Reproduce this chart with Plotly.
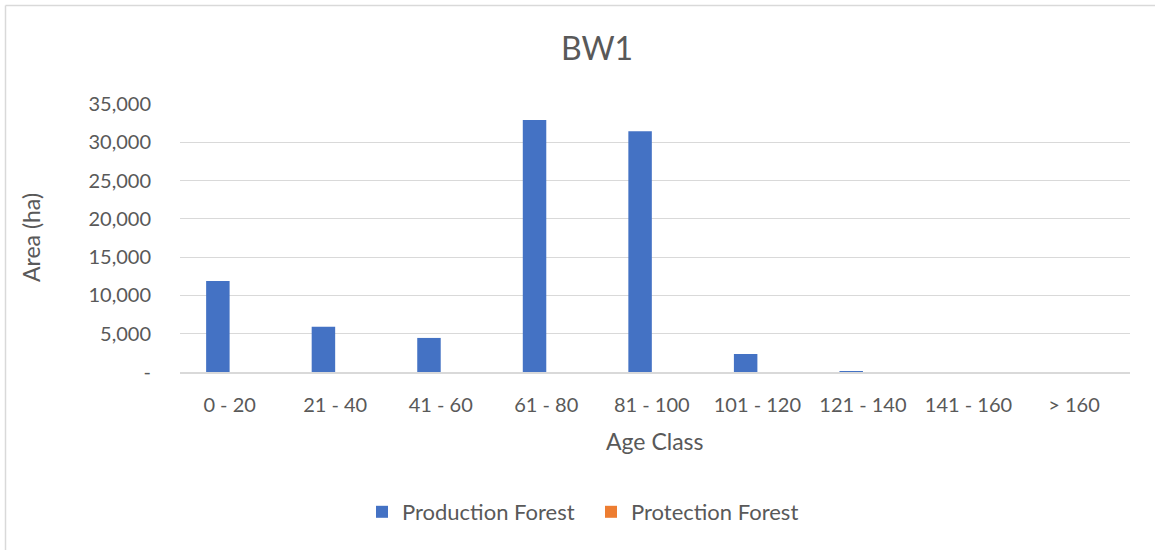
import plotly.graph_objects as go

# Age classes and area (ha) by forest function
age_classes = ["0 - 20", "21 - 40", "41 - 60", "61 - 80", "81 - 100",
               "101 - 120", "121 - 140", "141 - 160", "> 160"]
production_forest = [11900, 5900, 4450, 32900, 31450, 2350, 100, 0, 0]
protection_forest = [0, 0, 0, 0, 0, 0, 0, 0, 0]

y_tick_values = [0, 5000, 10000, 15000, 20000, 25000, 30000, 35000]
y_tick_labels = ["-", "5,000", "10,000", "15,000", "20,000", "25,000", "30,000", "35,000"]

FONT = "Lato"
TEXT = "#595959"
GRID = "#D9D9D9"

W, H = 1155, 550
L, R, T, B = 180, 25, 104, 178
pw, ph = W - L - R, H - T - B


def px_x(p):
    return (p - L) / pw


def px_y(p):
    return (H - B - p) / ph


fig = go.Figure()
fig.add_trace(go.Bar(x=age_classes, y=production_forest, name="Production Forest",
                     marker=dict(color="#4472C4", line=dict(width=0))))
fig.add_trace(go.Bar(x=age_classes, y=protection_forest, name="Protection Forest",
                     marker=dict(color="#ED7D31", line=dict(width=0))))

fig.update_layout(
    width=W, height=H,
    margin=dict(l=L, r=R, t=T, b=B, autoexpand=False),
    paper_bgcolor="white", plot_bgcolor="white",
    barmode="group", bargap=0.555, bargroupgap=0,
    font=dict(family=FONT, color=TEXT, size=20),
    showlegend=True,
    legend=dict(orientation="h", x=px_x(591), y=px_y(512), xanchor="center", yanchor="middle",
                font=dict(size=22, color=TEXT), itemwidth=30, traceorder="normal",
                entrywidth=184, entrywidthmode="pixels"),
    xaxis=dict(range=[-0.47, 8.53], showgrid=False, showline=True, linecolor=GRID, linewidth=1.5,
               ticks="", tickfont=dict(size=20, color=TEXT), ticklabelstandoff=14,
               fixedrange=True),
    yaxis=dict(range=[0, 35000], tickvals=y_tick_values, ticktext=y_tick_labels,
               showgrid=True, gridcolor=GRID, gridwidth=1.3, zeroline=False,
               showline=False, ticks="", tickfont=dict(size=20, color=TEXT),
               ticklabelstandoff=28, fixedrange=True),
    annotations=[
        dict(text="BW1", x=px_x(597), y=px_y(47), xref="paper", yref="paper",
             showarrow=False, font=dict(size=32, color=TEXT), xanchor="center", yanchor="middle"),
        dict(text="Age Class", x=px_x(655), y=px_y(441), xref="paper", yref="paper",
             showarrow=False, font=dict(size=23, color=TEXT), xanchor="center", yanchor="middle"),
        dict(text="Area (ha)", x=px_x(31), y=px_y(238), xref="paper", yref="paper",
             showarrow=False, font=dict(size=23, color=TEXT), textangle=-90,
             xanchor="center", yanchor="middle"),
    ],
    shapes=[
        dict(type="line", xref="paper", yref="paper", x0=px_x(5.5), x1=px_x(W), y0=px_y(5.5), y1=px_y(5.5),
             line=dict(color=GRID, width=1.5)),
        dict(type="line", xref="paper", yref="paper", x0=px_x(5.5), x1=px_x(5.5), y0=px_y(5.5), y1=px_y(H),
             line=dict(color=GRID, width=1.5)),
    ],
)

fig.write_html("out.html")
